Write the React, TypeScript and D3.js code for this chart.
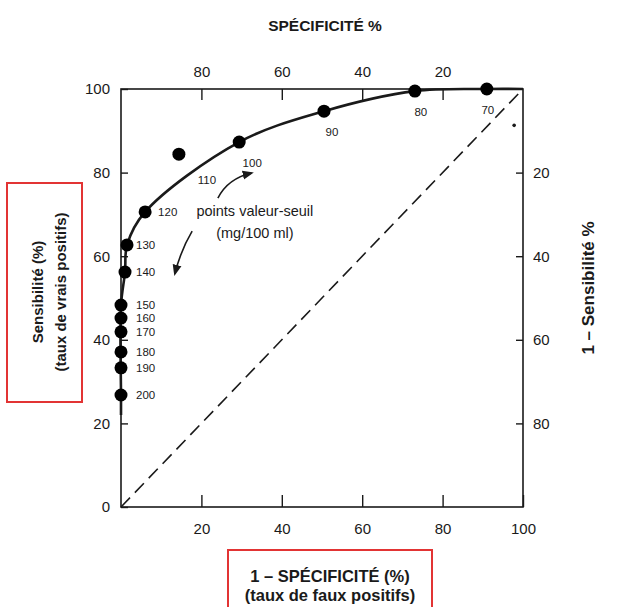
import { useEffect, useRef } from "react";
import * as d3 from "d3";

// seuils (mg/100 ml) and ROC coordinates
const thresholds = [70, 80, 90, 100, 110, 120, 130, 140, 150, 160, 170, 180, 190, 200];
const falsePositive = [91.0, 73.1, 50.5, 29.4, 14.4, 6.0, 1.5, 1.0, 0, 0, 0, 0, 0, 0];
const sensitivity = [100, 99.5, 94.7, 87.3, 84.4, 70.6, 62.7, 56.2, 48.3, 45.2, 41.9, 37.1, 33.3, 26.8];

// smooth ROC curve (110 lies off the curve)
const curveX = [0, 0, 0, 1.0, 1.5, 6.0, 29.4, 50.5, 73.1, 91.0, 100];
const curveY = [22, 26.8, 48.3, 56.2, 62.7, 70.6, 87.3, 94.7, 99.5, 100, 100];

const bottomTicks = [20, 40, 60, 80, 100];
const leftTicks = [0, 20, 40, 60, 80, 100];
const topTicks = [20, 40, 60, 80];
const rightTicks = [20, 40, 60, 80];

const W = 618;
const H = 607;

export default function App() {
  const ref = useRef<SVGSVGElement>(null);

  useEffect(() => {
    const svg = d3.select(ref.current);
    svg.selectAll("*").remove();

    const left = 121, right = 523, top = 89, bottom = 507;
    const x = d3.scaleLinear().domain([0, 100]).range([left, right]);
    const y = d3.scaleLinear().domain([0, 100]).range([bottom, top]);
    const xTop = d3.scaleLinear().domain([100, 0]).range([left, right]);
    const yRight = d3.scaleLinear().domain([0, 100]).range([top, bottom]);

    const ink = "#1a1a1a";
    const font = "'Liberation Sans', Arial, sans-serif";

    const styleAxis = (g) => {
      g.select(".domain").remove();
      g.selectAll("line").attr("stroke", ink).attr("stroke-width", 1.4);
      g.selectAll("text").attr("fill", ink).style("font-size", "15px").style("font-family", font);
    };

    svg.append("g").attr("transform", `translate(0,${bottom})`)
      .call(d3.axisBottom(x).tickValues(bottomTicks).tickSizeInner(-12).tickSizeOuter(0).tickPadding(16))
      .call(styleAxis);
    svg.append("g").attr("transform", `translate(${left},0)`)
      .call(d3.axisLeft(y).tickValues(leftTicks).tickSizeInner(-7).tickSizeOuter(0).tickPadding(11))
      .call(styleAxis);
    svg.append("g").attr("transform", `translate(0,${top})`)
      .call(d3.axisTop(xTop).tickValues(topTicks).tickSizeInner(-11).tickSizeOuter(0).tickPadding(12))
      .call(styleAxis);
    svg.append("g").attr("transform", `translate(${right},0)`)
      .call(d3.axisRight(yRight).tickValues(rightTicks).tickSizeInner(-7).tickSizeOuter(0).tickPadding(10))
      .call(styleAxis);

    // frame
    svg.append("rect")
      .attr("x", left).attr("y", top)
      .attr("width", right - left).attr("height", bottom - top)
      .attr("fill", "none").attr("stroke", ink).attr("stroke-width", 1.6);

    // diagonal
    svg.append("line")
      .attr("x1", x(0)).attr("y1", y(0)).attr("x2", x(100)).attr("y2", y(100))
      .attr("stroke", ink).attr("stroke-width", 1.6)
      .attr("stroke-dasharray", "13 7");

    // ROC curve
    const line = d3.line<number>()
      .x((_, i) => x(curveX[i]))
      .y((_, i) => y(curveY[i]))
      .curve(d3.curveCatmullRom.alpha(0.5));
    svg.append("path")
      .attr("d", line(curveX))
      .attr("fill", "none").attr("stroke", ink).attr("stroke-width", 2.6);

    // points
    svg.append("g").selectAll("circle")
      .data(thresholds)
      .join("circle")
      .attr("cx", (_, i) => x(falsePositive[i]))
      .attr("cy", (_, i) => y(sensitivity[i]))
      .attr("r", 6.5)
      .attr("fill", "#000");

    // threshold labels
    svg.append("g").selectAll("text")
      .data(thresholds)
      .join("text")
      .attr("x", (d, i) => {
        const cx = x(falsePositive[i]);
        if (d === 110) return cx + 28;
        if (d <= 100) return cx + (d === 70 ? 1 : d === 80 ? 6 : d === 90 ? 8 : 13);
        if (d === 120) return cx + 13;
        return left + 15;
      })
      .attr("y", (d, i) => {
        const cy = y(sensitivity[i]);
        if (d === 110) return cy + 30;
        if (d <= 100) return cy + 25;
        return cy + 4;
      })
      .attr("text-anchor", (d) => (d <= 110 ? "middle" : "start"))
      .style("font-size", "11.5px")
      .style("font-family", font)
      .attr("fill", ink)
      .text((d) => d);

    // speck near the top right corner
    svg.append("circle").attr("cx", x(97.8)).attr("cy", y(91.3)).attr("r", 1.8).attr("fill", ink);

    // annotation
    const defs = svg.append("defs");
    defs.append("marker")
      .attr("id", "arrow").attr("viewBox", "0 0 10 10")
      .attr("refX", 8).attr("refY", 5)
      .attr("markerWidth", 7).attr("markerHeight", 7)
      .attr("orient", "auto-start-reverse")
      .append("path").attr("d", "M0,1 L10,5 L0,9 Z").attr("fill", ink);

    const arrow = (p0, c, p1) => {
      const path = d3.path();
      path.moveTo(x(p0[0]), y(p0[1]));
      path.quadraticCurveTo(x(c[0]), y(c[1]), x(p1[0]), y(p1[1]));
      svg.append("path").attr("d", path.toString())
        .attr("fill", "none").attr("stroke", ink).attr("stroke-width", 1.6)
        .attr("marker-end", "url(#arrow)");
    };
    arrow([24.1, 73.9], [26.6, 78.6], [32.5, 79.9]);
    arrow([17.7, 66.0], [14.9, 61.5], [13.4, 55.8]);

    svg.append("text").attr("x", x(33.3)).attr("y", y(70.8) + 5)
      .attr("text-anchor", "middle").style("font-size", "14.5px").style("font-family", font)
      .attr("fill", ink).text("points valeur-seuil");
    svg.append("text").attr("x", x(33.3)).attr("y", y(65.6) + 5)
      .attr("text-anchor", "middle").style("font-size", "14.5px").style("font-family", font)
      .attr("fill", ink).text("(mg/100 ml)");

    // titles
    const bold = (size) => (sel) => sel.attr("text-anchor", "middle").style("font-size", `${size}px`)
      .style("font-weight", "bold").style("font-family", font).attr("fill", ink);

    svg.append("text").attr("x", 325).attr("y", 31).call(bold(15.5)).text("SPÉCIFICITÉ %");
    svg.append("text").attr("transform", "translate(594,288) rotate(-90)").call(bold(17)).text("1 – Sensibilité %");

    svg.append("rect").attr("x", 7).attr("y", 183).attr("width", 75).attr("height", 219)
      .attr("fill", "none").attr("stroke", "#e23434").attr("stroke-width", 2);
    svg.append("text").attr("transform", "translate(43,292) rotate(-90)").call(bold(15)).text("Sensibilité (%)");
    svg.append("text").attr("transform", "translate(66,292) rotate(-90)").call(bold(15)).text("(taux de vrais positifs)");

    svg.append("rect").attr("x", 228).attr("y", 550).attr("width", 204).attr("height", 60)
      .attr("fill", "none").attr("stroke", "#e23434").attr("stroke-width", 2);
    svg.append("text").attr("x", 330).attr("y", 582).call(bold(16.5)).text("1 – SPÉCIFICITÉ (%)");
    svg.append("text").attr("x", 330).attr("y", 601).call(bold(16.5)).text("(taux de faux positifs)");
  }, []);

  return (
    <svg
      ref={ref}
      width={W}
      height={H}
      style={{ position: "absolute", left: 0, top: 0, background: "#fff" }}
    />
  );
}
